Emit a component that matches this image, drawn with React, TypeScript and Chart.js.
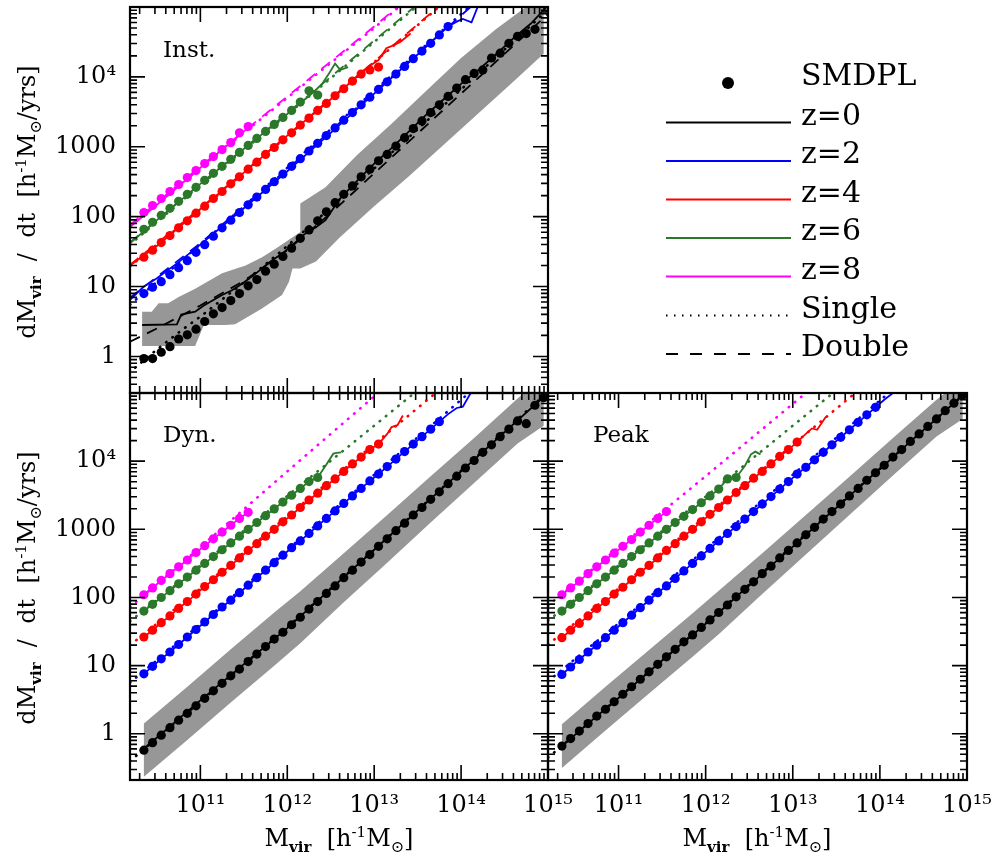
import React, { useEffect, useRef } from 'react';
import { Chart, registerables } from 'chart.js';

Chart.register(...registerables);

const FONT = "'DejaVu Serif', serif";
const BAND_COLOR = '#979797';
const TICK_FONT_SIZE = 24;

Chart.defaults.font.family = FONT;
Chart.defaults.font.size = TICK_FONT_SIZE;
Chart.defaults.color = '#000';

// ---------- axes ----------
const X_MIN = 1.55e10;
const X_MAX = 1e15;
const X_TICKS = [1e11, 1e12, 1e13, 1e14, 1e15];
const X_TICK_LABELS = ['10¹¹', '10¹²', '10¹³', '10¹⁴', '10¹⁵'];
const Y_TICKS = [1, 10, 100, 1000, 1e4];
const Y_TICK_LABELS = ['1', '10', '100', '1000', '10⁴'];
const Y_MAX = 1e5;
const Y_MIN_TOP = 0.316;
const Y_MIN_BOTTOM = 0.21;

// ---------- series meta ----------
const Z_COLORS = ['#000000', '#0000ff', '#ff0000', '#2a782a', '#ff00ff'];
const PANEL_NAMES = ['Inst.', 'Dyn.', 'Peak'];
const LEGEND_LABELS = ['SMDPL', 'z=0', 'z=2', 'z=4', 'z=6', 'z=8', 'Single', 'Double'];

// log10 Mvir grid of the SMDPL points
const LOG_M = [10.35, 10.45, 10.55, 10.65, 10.75, 10.85, 10.95, 11.05, 11.15, 11.25, 11.35, 11.45, 11.55, 11.65, 11.75, 11.85, 11.95, 12.05, 12.15, 12.25, 12.35, 12.45, 12.55, 12.65, 12.75, 12.85, 12.95, 13.05, 13.15, 13.25, 13.35, 13.45, 13.55, 13.65, 13.75, 13.85, 13.95, 14.05, 14.15, 14.25, 14.35, 14.45, 14.55, 14.65, 14.75, 14.85, 14.95];
// log10 Mvir grid of the Single / Double fits (z >= 2)
const FIT_M = [10.19, 11, 12, 13, 14, 15];

// ================= Inst. panel (log10 dM/dt) =================
const INST_PTS_Z0 = [-0.03, -0.03, 0.06, 0.14, 0.25, 0.31, 0.39, 0.50, 0.61, 0.70, 0.80, 0.90, 1.01, 1.10, 1.22, 1.32, 1.43, 1.55, 1.69, 1.81, 1.94, 2.07, 2.20, 2.32, 2.44, 2.57, 2.68, 2.80, 2.89, 3.01, 3.13, 3.26, 3.37, 3.49, 3.60, 3.72, 3.84, 3.96, 4.05, 4.10, 4.27, 4.34, 4.48, 4.58, 4.62, 4.68];
const INST_PTS_Z2 = [0.90, 0.99, 1.07, 1.17, 1.27, 1.37, 1.49, 1.60, 1.72, 1.84, 1.95, 2.06, 2.17, 2.28, 2.39, 2.50, 2.61, 2.72, 2.83, 2.94, 3.05, 3.16, 3.27, 3.38, 3.49, 3.60, 3.71, 3.82, 3.93, 4.04, 4.15, 4.26, 4.37, 4.48, 4.60, 4.72];
const INST_PTS_Z4 = [1.42, 1.52, 1.63, 1.73, 1.84, 1.94, 2.05, 2.15, 2.26, 2.36, 2.47, 2.57, 2.68, 2.78, 2.89, 2.99, 3.10, 3.20, 3.31, 3.41, 3.52, 3.62, 3.73, 3.83, 3.94, 4.04, 4.10, 4.14];
const INST_PTS_Z6 = [1.82, 1.92, 2.02, 2.12, 2.22, 2.32, 2.42, 2.52, 2.62, 2.72, 2.82, 2.92, 3.02, 3.12, 3.22, 3.32, 3.42, 3.52, 3.64, 3.80, 3.74];
const INST_PTS_Z8 = [2.06, 2.16, 2.26, 2.36, 2.46, 2.56, 2.66, 2.76, 2.86, 2.96, 3.06, 3.20, 3.29];

const INST_SOLID_M_Z0 = [10.33, 10.73, 10.78, 10.94, 11.04, 11.25, 11.37, 11.48, 11.60, 11.71, 11.83, 11.94, 12.10, 12.21, 12.33, 12.44, 12.6, 12.8, 13.0, 13.2, 13.4, 13.6, 13.8, 14.0, 14.2, 14.4, 14.6, 14.8, 15.0];
const INST_SOLID_Y_Z0 = [0.45, 0.46, 0.60, 0.64, 0.73, 0.88, 0.95, 1.04, 1.15, 1.26, 1.38, 1.47, 1.64, 1.76, 1.85, 1.95, 2.25, 2.51, 2.76, 2.98, 3.22, 3.46, 3.68, 3.90, 4.10, 4.32, 4.55, 4.76, 5.02];
const INST_SOLID_M_Z2 = [10.19, 10.35, 10.5, 10.75, 11.0, 11.5, 12.0, 12.5, 13.0, 13.5, 13.85, 13.95, 14.02, 14.12, 14.2];
const INST_SOLID_Y_Z2 = [0.81, 1.00, 1.12, 1.35, 1.60, 2.12, 2.65, 3.20, 3.76, 4.32, 4.72, 4.79, 4.83, 4.78, 5.03];
const INST_SOLID_M_Z4 = [10.19, 10.5, 11.0, 11.5, 12.0, 12.5, 12.95, 13.05, 13.14, 13.2, 13.3, 13.42];
const INST_SOLID_Y_Z4 = [1.30, 1.58, 2.11, 2.63, 3.16, 3.68, 4.16, 4.24, 4.41, 4.44, 4.50, 4.62];
const INST_SOLID_M_Z6 = [10.19, 10.5, 11.0, 11.5, 12.0, 12.3, 12.4, 12.48, 12.55, 12.61, 12.7];
const INST_SOLID_Y_Z6 = [1.62, 1.95, 2.47, 2.97, 3.47, 3.78, 3.90, 4.05, 4.19, 4.10, 4.14];
const INST_SOLID_M_Z8 = [10.19, 10.5, 11.0, 11.55];
const INST_SOLID_Y_Z8 = [1.85, 2.17, 2.70, 3.27];

const INST_SINGLE_M_Z0 = [10.25, 10.5, 10.8, 11.0, 11.5, 12.0, 12.5, 13.0, 13.5, 14.0, 14.5, 15.0];
const INST_SINGLE_Y_Z0 = [-0.16, 0.10, 0.39, 0.57, 1.06, 1.58, 2.13, 2.69, 3.25, 3.82, 4.39, 4.96];
const INST_DOUBLE_M_Z0 = [10.19, 10.5, 11.0, 11.5, 12.0, 12.5, 13.0, 13.5, 14.0, 14.5, 15.0];
const INST_DOUBLE_Y_Z0 = [0.21, 0.40, 0.73, 1.08, 1.52, 2.05, 2.62, 3.19, 3.76, 4.33, 4.90];
const INST_SINGLE_Z2 = [0.74, 1.60, 2.70, 3.80, 4.90, 6.00];
const INST_SINGLE_Z4 = [1.29, 2.10, 3.15, 4.21, 5.27, 6.33];
const INST_SINGLE_Z6 = [1.60, 2.45, 3.46, 4.50, 5.54, 6.58];
const INST_SINGLE_Z8 = [1.86, 2.70, 3.70, 4.70, 5.75, 6.80];
const INST_DOUBLE_Z2 = [0.84, 1.62, 2.68, 3.78, 4.88, 5.98];
const INST_DOUBLE_Z4 = [1.31, 2.12, 3.16, 4.22, 5.28, 6.34];
const INST_DOUBLE_Z6 = [1.63, 2.47, 3.48, 4.52, 5.56, 6.60];
const INST_DOUBLE_Z8 = [1.88, 2.72, 3.72, 4.72, 5.77, 6.82];

const INST_BAND_HI_M = [10.33, 10.44, 10.52, 10.63, 10.75, 10.94, 11.25, 11.52, 11.71, 11.90, 12.15, 12.15, 12.44, 12.8, 13.2, 13.6, 14.0, 14.4, 14.8, 14.95];
const INST_BAND_HI = [0.64, 0.64, 0.76, 0.76, 0.85, 0.97, 1.19, 1.30, 1.42, 1.57, 1.78, 2.19, 2.42, 2.88, 3.33, 3.80, 4.27, 4.68, 5.05, 5.20];
const INST_BAND_LO_M = [10.33, 10.94, 11.04, 11.29, 11.40, 11.70, 11.94, 12.02, 12.06, 12.15, 12.33, 12.6, 13.0, 13.4, 13.8, 14.2, 14.6, 14.95];
const INST_BAND_LO = [0.15, 0.15, 0.45, 0.45, 0.46, 0.68, 0.88, 1.07, 1.26, 1.26, 1.36, 1.70, 2.15, 2.58, 3.03, 3.48, 3.93, 4.33];

// ================= Dyn. panel =================
const DYN_PTS_Z0 = [-0.24, -0.13, -0.02, 0.09, 0.20, 0.30, 0.41, 0.52, 0.63, 0.74, 0.85, 0.95, 1.06, 1.17, 1.28, 1.39, 1.49, 1.60, 1.71, 1.83, 1.94, 2.06, 2.17, 2.29, 2.40, 2.52, 2.63, 2.75, 2.86, 2.98, 3.09, 3.21, 3.32, 3.44, 3.55, 3.67, 3.78, 3.90, 4.01, 4.13, 4.24, 4.36, 4.47, 4.59, 4.55, 4.82, 4.93];
const DYN_PTS_Z2 = [0.88, 0.99, 1.10, 1.20, 1.31, 1.42, 1.53, 1.64, 1.75, 1.86, 1.96, 2.07, 2.18, 2.29, 2.40, 2.51, 2.62, 2.73, 2.83, 2.94, 3.05, 3.16, 3.27, 3.38, 3.49, 3.60, 3.71, 3.81, 3.92, 4.03, 4.14, 4.25, 4.36, 4.47, 4.58];
const DYN_PTS_Z4 = [1.42, 1.52, 1.63, 1.73, 1.84, 1.94, 2.05, 2.16, 2.26, 2.37, 2.47, 2.58, 2.69, 2.79, 2.90, 3.00, 3.11, 3.21, 3.32, 3.43, 3.53, 3.64, 3.74, 3.85, 3.96, 4.06, 4.17, 4.25];
const DYN_PTS_Z6 = [1.80, 1.90, 2.00, 2.10, 2.20, 2.30, 2.40, 2.50, 2.60, 2.70, 2.80, 2.90, 3.00, 3.10, 3.20, 3.30, 3.40, 3.50, 3.60, 3.70, 3.76];
const DYN_PTS_Z8 = [2.04, 2.14, 2.25, 2.35, 2.45, 2.55, 2.66, 2.76, 2.86, 2.96, 3.06, 3.16, 3.25];

const DYN_SOLID_M_Z0 = [10.35, 11.0, 12.0, 13.0, 14.0, 15.0];
const DYN_SOLID_Y_Z0 = [-0.22, 0.49, 1.55, 2.70, 3.85, 5.00];
const DYN_TAIL_M = [[], [13.85, 13.95, 14.02, 14.12], [13.15, 13.2, 13.27, 13.33], [12.45, 12.53, 12.57, 12.62], []];
const DYN_TAIL_Y = [[], [4.69, 4.78, 4.80, 5.02], [4.40, 4.50, 4.53, 4.67], [3.95, 4.11, 4.12, 4.13], []];

const DYN_SINGLE_Z0 = [-0.40, 0.47, 1.56, 2.70, 3.86, 5.02];
const DYN_SINGLE_Z2 = [0.75, 1.61, 2.70, 3.80, 4.90, 6.00];
const DYN_SINGLE_Z4 = [1.30, 2.13, 3.19, 4.25, 5.31, 6.37];
const DYN_SINGLE_Z6 = [1.65, 2.47, 3.49, 4.52, 5.56, 6.60];
const DYN_SINGLE_Z8 = [1.86, 2.74, 3.85, 4.95, 6.00, 7.05];

const BAND_M = [10.35, 10.85, 11.35, 11.85, 12.15, 12.65, 13.15, 13.65, 14.15, 14.65, 14.95];
const DYN_BAND_HI = [0.15, 0.69, 1.24, 1.78, 2.09, 2.65, 3.21, 3.78, 4.34, 4.92, 5.25];
const DYN_BAND_LO = [-0.63, -0.09, 0.46, 1.00, 1.33, 1.93, 2.51, 3.10, 3.68, 4.26, 4.52];

// ================= Peak panel =================
const PEAK_PTS_Z0 = [-0.18, -0.07, 0.04, 0.15, 0.26, 0.36, 0.47, 0.58, 0.69, 0.80, 0.91, 1.02, 1.13, 1.24, 1.35, 1.45, 1.56, 1.67, 1.78, 1.89, 2.01, 2.12, 2.23, 2.35, 2.46, 2.58, 2.69, 2.80, 2.92, 3.03, 3.15, 3.26, 3.37, 3.49, 3.60, 3.72, 3.83, 3.94, 4.06, 4.17, 4.29, 4.40, 4.51, 4.62, 4.74, 4.85, 4.97];
const PEAK_PTS_Z2 = [0.87, 0.98, 1.09, 1.20, 1.30, 1.41, 1.52, 1.63, 1.74, 1.85, 1.96, 2.07, 2.17, 2.28, 2.39, 2.50, 2.61, 2.72, 2.83, 2.94, 3.04, 3.15, 3.26, 3.37, 3.48, 3.59, 3.70, 3.81, 3.91, 4.02, 4.13, 4.24, 4.35, 4.46, 4.57, 4.68, 4.79];
const PEAK_PTS_Z4 = [1.41, 1.52, 1.62, 1.73, 1.84, 1.94, 2.05, 2.15, 2.26, 2.37, 2.47, 2.58, 2.69, 2.79, 2.90, 3.00, 3.11, 3.22, 3.32, 3.43, 3.54, 3.64, 3.75, 3.85, 3.96, 4.07, 4.17, 4.28];
const PEAK_PTS_Z6 = [1.80, 1.90, 2.00, 2.10, 2.20, 2.30, 2.40, 2.50, 2.60, 2.70, 2.80, 2.90, 3.00, 3.10, 3.19, 3.29, 3.39, 3.49, 3.59, 3.74, 3.76];
const PEAK_PTS_Z8 = [2.04, 2.14, 2.24, 2.35, 2.45, 2.55, 2.65, 2.75, 2.85, 2.96, 3.06, 3.16, 3.26];

const PEAK_TAIL_M = [[15.0], [14.05, 14.16], [13.15, 13.22, 13.28, 13.38], [12.45, 12.52, 12.57, 12.63], []];
const PEAK_TAIL_Y = [[5.03], [4.90, 5.01], [4.40, 4.48, 4.46, 4.65], [3.93, 4.10, 4.14, 4.10], []];

const PEAK_SINGLE_Z0 = [-0.35, 0.53, 1.62, 2.76, 3.89, 5.02];
const PEAK_SINGLE_Z2 = [0.77, 1.62, 2.71, 3.80, 4.89, 5.98];
const PEAK_SINGLE_Z4 = [1.31, 2.13, 3.19, 4.24, 5.30, 6.36];
const PEAK_SINGLE_Z6 = [1.66, 2.47, 3.48, 4.52, 5.56, 6.60];
const PEAK_SINGLE_Z8 = [1.88, 2.73, 3.78, 4.84, 5.90, 6.96];

const PEAK_BAND_HI = [0.14, 0.69, 1.23, 1.77, 2.10, 2.65, 3.21, 3.77, 4.34, 4.90, 5.20];
const PEAK_BAND_LO = [-0.50, 0.05, 0.59, 1.13, 1.46, 2.05, 2.63, 3.21, 3.79, 4.36, 4.62];

// ---------- helpers ----------
type Line = { m: number[]; y: number[] };
type PanelSpec = {
  bandHiM: number[]; bandHi: number[]; bandLoM: number[]; bandLo: number[];
  points: number[][];
  solid: Line[];
  single: Line[];
  double: Line[];
};

const toPts = (ms: number[], ys: number[]) =>
  ys.map((y, i) => ({ x: Math.pow(10, ms[i]), y: Math.pow(10, y) }));

const withTail = (pts: number[], tm: number[], ty: number[]): Line => ({
  m: LOG_M.slice(0, pts.length).concat(tm),
  y: pts.concat(ty),
});

const INST: PanelSpec = {
  bandHiM: INST_BAND_HI_M, bandHi: INST_BAND_HI, bandLoM: INST_BAND_LO_M, bandLo: INST_BAND_LO,
  points: [INST_PTS_Z0, INST_PTS_Z2, INST_PTS_Z4, INST_PTS_Z6, INST_PTS_Z8],
  solid: [
    { m: INST_SOLID_M_Z0, y: INST_SOLID_Y_Z0 },
    { m: INST_SOLID_M_Z2, y: INST_SOLID_Y_Z2 },
    { m: INST_SOLID_M_Z4, y: INST_SOLID_Y_Z4 },
    { m: INST_SOLID_M_Z6, y: INST_SOLID_Y_Z6 },
    { m: INST_SOLID_M_Z8, y: INST_SOLID_Y_Z8 },
  ],
  single: [
    { m: INST_SINGLE_M_Z0, y: INST_SINGLE_Y_Z0 },
    { m: FIT_M, y: INST_SINGLE_Z2 },
    { m: FIT_M, y: INST_SINGLE_Z4 },
    { m: FIT_M, y: INST_SINGLE_Z6 },
    { m: FIT_M, y: INST_SINGLE_Z8 },
  ],
  double: [
    { m: INST_DOUBLE_M_Z0, y: INST_DOUBLE_Y_Z0 },
    { m: FIT_M, y: INST_DOUBLE_Z2 },
    { m: FIT_M, y: INST_DOUBLE_Z4 },
    { m: FIT_M, y: INST_DOUBLE_Z6 },
    { m: FIT_M, y: INST_DOUBLE_Z8 },
  ],
};

const DYN_PTS = [DYN_PTS_Z0, DYN_PTS_Z2, DYN_PTS_Z4, DYN_PTS_Z6, DYN_PTS_Z8];
const DYN: PanelSpec = {
  bandHiM: BAND_M, bandHi: DYN_BAND_HI, bandLoM: BAND_M, bandLo: DYN_BAND_LO,
  points: DYN_PTS,
  solid: DYN_PTS.map((p, i) => (i === 0 ? { m: DYN_SOLID_M_Z0, y: DYN_SOLID_Y_Z0 } : withTail(p, DYN_TAIL_M[i], DYN_TAIL_Y[i]))),
  single: [DYN_SINGLE_Z0, DYN_SINGLE_Z2, DYN_SINGLE_Z4, DYN_SINGLE_Z6, DYN_SINGLE_Z8].map((y) => ({ m: FIT_M, y })),
  double: [],
};

const PEAK_PTS = [PEAK_PTS_Z0, PEAK_PTS_Z2, PEAK_PTS_Z4, PEAK_PTS_Z6, PEAK_PTS_Z8];
const PEAK: PanelSpec = {
  bandHiM: BAND_M, bandHi: PEAK_BAND_HI, bandLoM: BAND_M, bandLo: PEAK_BAND_LO,
  points: PEAK_PTS,
  solid: PEAK_PTS.map((p, i) => withTail(p, PEAK_TAIL_M[i], PEAK_TAIL_Y[i])),
  single: [PEAK_SINGLE_Z0, PEAK_SINGLE_Z2, PEAK_SINGLE_Z4, PEAK_SINGLE_Z6, PEAK_SINGLE_Z8].map((y) => ({ m: FIT_M, y })),
  double: [],
};

function buildDatasets(p: PanelSpec) {
  const ds: any[] = [];
  const band = [...toPts(p.bandHiM, p.bandHi), ...toPts(p.bandLoM, p.bandLo).reverse()];
  ds.push({
    data: band, fill: 'shape', backgroundColor: BAND_COLOR, borderWidth: 0, borderColor: 'rgba(0,0,0,0)',
    pointRadius: 0, order: 10, tension: 0,
  });
  Z_COLORS.forEach((c, i) => {
    const s = p.single[i];
    if (s) ds.push({
      data: toPts(s.m, s.y), borderColor: c, borderWidth: 2.6, borderDash: [0.5, 7.5], borderCapStyle: 'round',
      pointRadius: 0, fill: false, order: 6,
    });
    const d = p.double[i];
    if (d) ds.push({
      data: toPts(d.m, d.y), borderColor: c, borderWidth: 1.8, borderDash: [11, 8],
      pointRadius: 0, fill: false, order: 5,
    });
    const l = p.solid[i];
    ds.push({ data: toPts(l.m, l.y), borderColor: c, borderWidth: 1.8, pointRadius: 0, fill: false, order: 4 });
    ds.push({
      data: toPts(LOG_M, p.points[i]), showLine: false, pointRadius: 4.6, pointBackgroundColor: c,
      pointBorderColor: c, pointBorderWidth: 0, borderColor: c, order: 1,
    });
  });
  return ds;
}

function logTickValues(min: number, max: number): [number, boolean][] {
  const out: [number, boolean][] = [];
  for (let e = Math.floor(Math.log10(min)); e <= Math.ceil(Math.log10(max)); e++) {
    for (let k = 1; k <= 9; k++) {
      const v = k * Math.pow(10, e);
      if (v >= min * 0.999 && v <= max * 1.001) out.push([v, k === 1]);
    }
  }
  return out;
}

const frameTicks = {
  id: 'frameTicks',
  afterDraw(chart: any) {
    const { ctx, chartArea: a } = chart;
    const xs = chart.scales.x;
    const ys = chart.scales.y;
    ctx.save();
    ctx.strokeStyle = '#000';
    ctx.lineWidth = 1.6;
    ctx.beginPath();
    for (const [v, major] of logTickValues(xs.min, xs.max)) {
      const px = xs.getPixelForValue(v);
      const len = major ? 15 : 7;
      ctx.moveTo(px, a.bottom); ctx.lineTo(px, a.bottom - len);
      ctx.moveTo(px, a.top); ctx.lineTo(px, a.top + len);
    }
    for (const [v, major] of logTickValues(ys.min, ys.max)) {
      const py = ys.getPixelForValue(v);
      const len = major ? 15 : 7;
      ctx.moveTo(a.left, py); ctx.lineTo(a.left + len, py);
      ctx.moveTo(a.right, py); ctx.lineTo(a.right - len, py);
    }
    ctx.stroke();
    ctx.lineWidth = 2.2;
    ctx.strokeRect(a.left, a.top, a.right - a.left, a.bottom - a.top);
    ctx.restore();
  },
};

type PanelProps = {
  spec: PanelSpec; left: number; top: number; width: number; height: number;
  padding: { left: number; top: number; right: number; bottom: number };
  showX: boolean; showY: boolean; yMin: number;
};

function Panel({ spec, left, top, width, height, padding, showX, showY, yMin }: PanelProps) {
  const ref = useRef<HTMLCanvasElement>(null);
  useEffect(() => {
    const chart = new Chart(ref.current as HTMLCanvasElement, {
      type: 'line',
      data: { datasets: buildDatasets(spec) },
      plugins: [frameTicks],
      options: {
        responsive: false,
        maintainAspectRatio: false,
        animation: false,
        devicePixelRatio: 1,
        events: [],
        layout: { padding },
        plugins: { legend: { display: false }, tooltip: { enabled: false } },
        scales: {
          x: {
            type: 'logarithmic', min: X_MIN, max: X_MAX, display: showX,
            grid: { display: false, drawTicks: false }, border: { display: false },
            afterBuildTicks: (s: any) => { s.ticks = X_TICKS.map((v) => ({ value: v })); },
            afterFit: (s: any) => {
              if (showX) s.height = 79;
              s.paddingLeft = 0; s.paddingRight = 0; s.paddingTop = 0; s.paddingBottom = 0;
            },
            ticks: {
              autoSkip: false, maxRotation: 0, minRotation: 0, padding: 11, color: '#000',
              font: { family: FONT, size: TICK_FONT_SIZE },
              callback: (_v: any, i: number) => X_TICK_LABELS[i],
            },
          },
          y: {
            type: 'logarithmic', min: yMin, max: Y_MAX, display: showY,
            grid: { display: false, drawTicks: false }, border: { display: false },
            afterBuildTicks: (s: any) => { s.ticks = Y_TICKS.map((v) => ({ value: v })); },
            afterFit: (s: any) => {
              if (showY) s.width = 130;
              s.paddingLeft = 0; s.paddingRight = 0; s.paddingTop = 0; s.paddingBottom = 0;
            },
            ticks: {
              autoSkip: false, padding: 14, color: '#000',
              font: { family: FONT, size: TICK_FONT_SIZE },
              callback: (_v: any, i: number) => Y_TICK_LABELS[i],
            },
          },
        },
      } as any,
    });
    return () => chart.destroy();
  }, []);
  return (
    <canvas ref={ref} width={width} height={height}
      style={{ position: 'absolute', left, top, width, height }} />
  );
}

function YTitle({ cx, cy }: { cx: number; cy: number }) {
  return (
    <text transform={`translate(${cx},${cy}) rotate(-90)`} textAnchor="middle" fontSize={24}>
      dM<tspan dy={6} fontSize={15} fontWeight="bold">vir</tspan>
      <tspan dy={-6}>{'\u00a0\u00a0/\u00a0\u00a0dt\u00a0\u00a0[h'}</tspan>
      <tspan dy={-9} fontSize={15}>-1</tspan>
      <tspan dy={9}>M</tspan>
      <tspan dy={6} fontSize={16}>⊙</tspan>
      <tspan dy={-6}>/yrs]</tspan>
    </text>
  );
}

function XTitle({ cx, y }: { cx: number; y: number }) {
  return (
    <text x={cx} y={y} textAnchor="middle" fontSize={24}>
      M<tspan dy={6} fontSize={15} fontWeight="bold">vir</tspan>
      <tspan dy={-6}>{'\u00a0\u00a0[h'}</tspan>
      <tspan dy={-9} fontSize={15}>-1</tspan>
      <tspan dy={9}>M</tspan>
      <tspan dy={6} fontSize={16}>⊙</tspan>
      <tspan dy={-6}>]</tspan>
    </text>
  );
}

export default function App() {
  const legendRowY = [83, 122.5, 161, 199.5, 238, 276.5, 315.5, 354];
  return (
    <div style={{ position: 'absolute', left: 0, top: 0, width: 997, height: 859, background: '#fff', overflow: 'hidden' }}>
      <Panel spec={INST} left={0} top={0} width={580} height={400}
        padding={{ left: 0, top: 7, right: 32, bottom: 7 }} showX={false} showY={true} yMin={Y_MIN_TOP} />
      <Panel spec={DYN} left={0} top={380} width={580} height={479}
        padding={{ left: 0, top: 13, right: 32, bottom: 0 }} showX={true} showY={true} yMin={Y_MIN_BOTTOM} />
      <Panel spec={PEAK} left={536} top={380} width={461} height={479}
        padding={{ left: 12, top: 13, right: 30, bottom: 0 }} showX={true} showY={false} yMin={Y_MIN_BOTTOM} />
      <svg width={997} height={859} style={{ position: 'absolute', left: 0, top: 0, pointerEvents: 'none' }}
        fontFamily={FONT} fill="#000">
        <text x={163} y={57} fontSize={23}>{PANEL_NAMES[0]}</text>
        <text x={163} y={442} fontSize={23}>{PANEL_NAMES[1]}</text>
        <text x={593} y={442} fontSize={23}>{PANEL_NAMES[2]}</text>
        <YTitle cx={35} cy={202} />
        <YTitle cx={35} cy={588} />
        <XTitle cx={339} y={846} />
        <XTitle cx={757} y={846} />
        {/* legend */}
        <circle cx={728} cy={legendRowY[0]} r={6} fill="#000" />
        {Z_COLORS.map((c, i) => (
          <line key={c} x1={666} x2={791} y1={legendRowY[i + 1]} y2={legendRowY[i + 1]} stroke={c} strokeWidth={2} />
        ))}
        <line x1={666} x2={791} y1={legendRowY[6]} y2={legendRowY[6]} stroke="#000" strokeWidth={2} strokeDasharray="1.5 6.5" />
        <line x1={666} x2={791} y1={legendRowY[7]} y2={legendRowY[7]} stroke="#000" strokeWidth={2} strokeDasharray="12 12" />
        {LEGEND_LABELS.map((t, i) => (
          <text key={t} x={801} y={legendRowY[i] + 2} fontSize={30}>{t}</text>
        ))}
      </svg>
    </div>
  );
}
